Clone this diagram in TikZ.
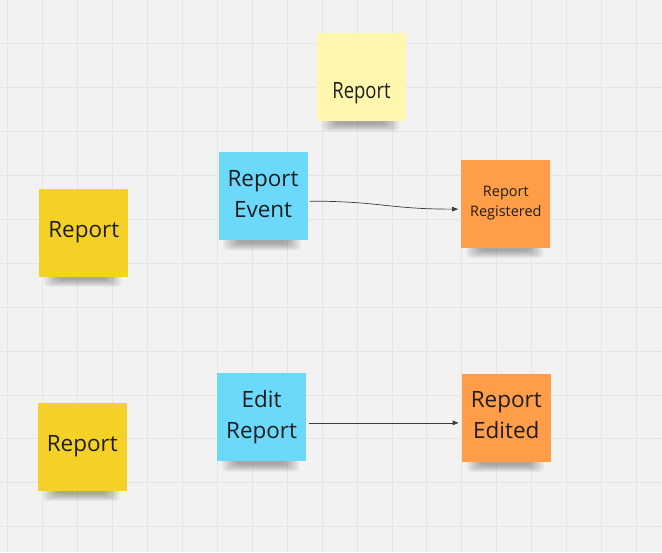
\documentclass[tikz,border=0pt]{standalone}
\usepackage{fontspec}
\setmainfont{Open Sans}
\usetikzlibrary{calc,arrows.meta}
\definecolor{bgc}{HTML}{F2F2F2}
\definecolor{gridc}{HTML}{E5E5E5}
\definecolor{lyel}{HTML}{FFF7AD}
\definecolor{yel}{HTML}{F5D128}
\definecolor{blu}{HTML}{6CD8FA}
\definecolor{ora}{HTML}{FF9D48}
\definecolor{txt}{HTML}{1E1E1E}
\definecolor{linec}{HTML}{3A3A3A}
\pgfdeclarelayer{bglayer}
\pgfdeclarelayer{shadowlayer}
\pgfsetlayers{bglayer,shadowlayer,main}
\tikzset{
  note/.style={draw=none, minimum width=89pt, minimum height=88pt, inner sep=0pt},
  notetext/.style={inner sep=0pt, align=center, text=txt, font=\fontsize{22.5}{31}\selectfont},
  smalltext/.style={notetext, font=\fontsize{14.5}{20}\selectfont},
  conn/.style={draw=linec, line width=0.7pt, -{Triangle[length=6pt,width=4.5pt]}},
}
\newcommand\noteshadow[1]{%
  \begin{pgfonlayer}{shadowlayer}
    \foreach \i in {0,...,7}{
      \fill[black,opacity=0.045,rounded corners=4pt]
        ($(#1.south west)+(5+2*\i,-6)$) rectangle ($(#1.south east)+(-7-2*\i,10-\i)$);
    }
  \end{pgfonlayer}}
\begin{document}
\begin{tikzpicture}[x=1pt,y=-1pt]
\begin{pgfonlayer}{bglayer}
  \fill[bgc] (0,0) rectangle (662,552);
  \foreach \x in {7,42,...,662} \draw[gridc,line width=0.8pt] (\x,0) -- (\x,552);
  \foreach \y in {43,87,...,552} \draw[gridc,line width=0.8pt] (0,\y) -- (662,\y);
\end{pgfonlayer}
\useasboundingbox (0,0) rectangle (662,552);

\node[note, fill=lyel] (top) at (361.5,77) {};
\node[notetext, xscale=0.82] (toptext) at ([yshift=-15.5pt]top.center) {Report};

\node[note, fill=yel] (y1) at (83.5,232.5) {};
\node[notetext] (y1text) at ([yshift=0.5pt]y1.center) {Report};
\node[note, fill=yel] (y2) at (82,447) {};
\node[notetext] (y2text) at ([yshift=0.5pt]y2.center) {Report};

\node[note, fill=blu] (re) at (263,196) {};
\node[notetext] (retext) at ([yshift=2pt]re.center) {Report\\Event};
\node[note, fill=blu] (er) at (261.5,417.5) {};
\node[notetext] (ertext) at (er.center) {Edit\\Report};

\node[note, fill=ora] (rr) at (506,203.5) {};
\node[smalltext] (rrtext) at ([yshift=0.5pt]rr.center) {Report\\Registered};
\node[note, fill=ora] (red) at (506.5,418) {};
\node[notetext] (redtext) at ([yshift=3pt]red.center) {Report\\Edited};

\noteshadow{top}
\noteshadow{y1}
\noteshadow{y2}
\noteshadow{re}
\noteshadow{er}
\noteshadow{rr}
\noteshadow{red}

\draw[conn] ([xshift=2pt,yshift=-5pt]re.east) .. controls +(70,0) and +(-70,0) .. ([xshift=-3pt,yshift=-5.5pt]rr.west);
\draw[conn] ([xshift=3pt,yshift=-5.5pt]er.east) -- ([xshift=-3pt,yshift=-5pt]red.west);
\end{tikzpicture}
\end{document}
